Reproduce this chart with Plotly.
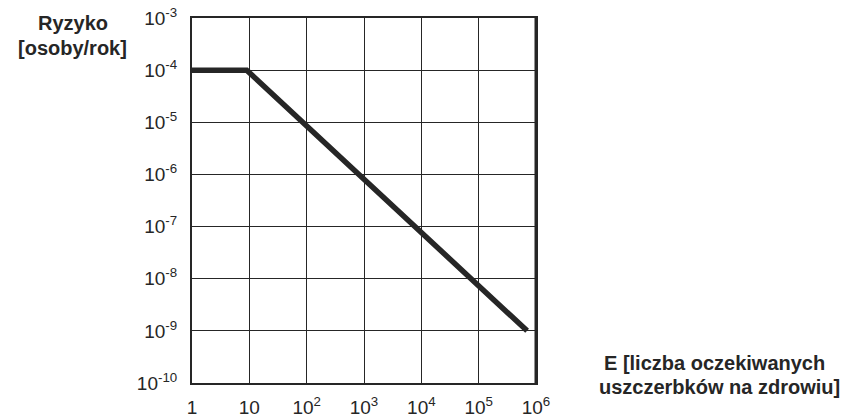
import plotly.graph_objects as go

# data
E_vals = [1, 9, 7e5]
risk_vals = [1e-4, 1e-4, 1e-9]

x_tickvals = [1, 10, 1e2, 1e3, 1e4, 1e5, 1e6]
x_ticktext = ["1", "10", "10<sup>2</sup>", "10<sup>3</sup>", "10<sup>4</sup>", "10<sup>5</sup>", "10<sup>6</sup>"]
y_tickvals = [1e-3, 1e-4, 1e-5, 1e-6, 1e-7, 1e-8, 1e-9, 1e-10]
y_ticktext = ["10<sup>-3</sup>", "10<sup>-4</sup>", "10<sup>-5</sup>", "10<sup>-6</sup>",
              "10<sup>-7</sup>", "10<sup>-8</sup>", "10<sup>-9</sup>", "10<sup>-10</sup>"]

ink = "#262626"
font = "Liberation Sans, Arial, sans-serif"

fig = go.Figure()
fig.add_trace(go.Scatter(x=E_vals, y=risk_vals, mode="lines",
                         line=dict(color=ink, width=5.5), showlegend=False, hoverinfo="skip"))

tf = dict(size=19, color=ink, family=font)
af = dict(size=20, color=ink, family=font)

fig.update_layout(
    width=842, height=409,
    margin=dict(l=184, r=314, t=10, b=34),
    paper_bgcolor="white", plot_bgcolor="white",
    font=dict(family=font, size=19, color=ink),
    xaxis=dict(type="log", range=[0, 6], tickvals=x_tickvals, ticktext=x_ticktext,
               showgrid=True, gridcolor=ink, gridwidth=1.3, automargin=False,
               showline=True, linecolor=ink, linewidth=2, mirror=True,
               ticks="", ticklabelstandoff=6, ticklabeloverflow="allow",
               zeroline=False, tickfont=tf),
    yaxis=dict(type="log", range=[-10, -3], tickvals=y_tickvals, ticktext=y_ticktext,
               showgrid=True, gridcolor=ink, gridwidth=1.3, automargin=False,
               showline=True, linecolor=ink, linewidth=2, mirror=True,
               ticks="", ticklabelstandoff=9, ticklabeloverflow="allow",
               zeroline=False, tickfont=tf),
    shapes=[dict(type="line", xref="paper", yref="paper", x0=1, x1=1, y0=0, y1=1,
                 line=dict(color=ink, width=3))],
    annotations=[
        dict(text="<b>Ryzyko</b>", xref="paper", yref="paper", x=-0.346, y=0.985,
             xanchor="center", yanchor="middle", showarrow=False, font=af),
        dict(text="<b>[osoby/rok]</b>", xref="paper", yref="paper", x=-0.346, y=0.917,
             xanchor="center", yanchor="middle", showarrow=False, font=af),
        dict(text="<b>E [liczba oczekiwanych</b>", xref="paper", yref="paper", x=1.846, y=0.055,
             xanchor="right", yanchor="middle", showarrow=False, font=af),
        dict(text="<b>uszczerbków na zdrowiu]</b>", xref="paper", yref="paper", x=1.89, y=-0.011,
             xanchor="right", yanchor="middle", showarrow=False, font=af),
    ],
)

fig.write_html("out.html")
